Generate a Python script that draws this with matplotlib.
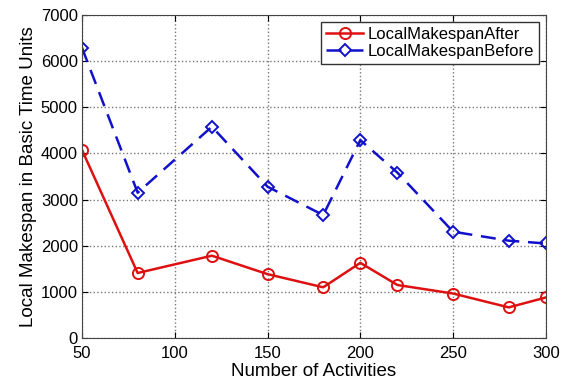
import matplotlib
matplotlib.use("Agg")
import matplotlib.pyplot as plt

plt.rcParams['font.family'] = ['Liberation Sans', 'DejaVu Sans']

activities = [50, 80, 120, 150, 180, 200, 220, 250, 280, 300]
makespan_after = [4075, 1410, 1785, 1385, 1100, 1630, 1150, 965, 665, 880]
makespan_before = [6290, 3150, 4580, 3280, 2665, 4290, 3585, 2305, 2110, 2050]

fig = plt.figure(figsize=(5.71, 3.82), dpi=100)
ax = fig.add_axes([0.1436, 0.115, 0.8124, 0.8457])

ax.plot(activities, makespan_after, '-o', color='#dd1111', lw=1.8, ms=8,
        mfc='none', mew=1.4, label='LocalMakespanAfter')
ax.plot(activities, makespan_before, '--D', color='#1111cc', lw=1.8, ms=6.5,
        mfc='none', mew=1.4, dashes=(6, 3.5), label='LocalMakespanBefore')

ax.set_xlim(50, 300)
ax.set_ylim(0, 7000)
ax.set_xticks([50, 100, 150, 200, 250, 300])
ax.set_yticks(range(0, 7001, 1000))
ax.grid(True, linestyle=':', color='#777777', lw=1.0)
ax.tick_params(labelsize=12, direction='in', length=4, top=True, right=True)
ax.tick_params(axis='x', pad=6)
ax.tick_params(axis='y', pad=3)
for s in ax.spines.values():
    s.set_color('#444444')

ax.set_xlabel('Number of Activities', fontsize=13.5, labelpad=1)
ax.set_ylabel('Local Makespan in Basic Time Units', fontsize=13.5, labelpad=3)

leg = ax.legend(loc='upper right', fontsize=12, fancybox=False, framealpha=1,
                edgecolor='#333333', handlelength=2.2, borderpad=0.3,
                labelspacing=0.15, handletextpad=0.3, borderaxespad=0.4)
leg.get_frame().set_linewidth(1.0)

fig.savefig('out.png', dpi=100)
